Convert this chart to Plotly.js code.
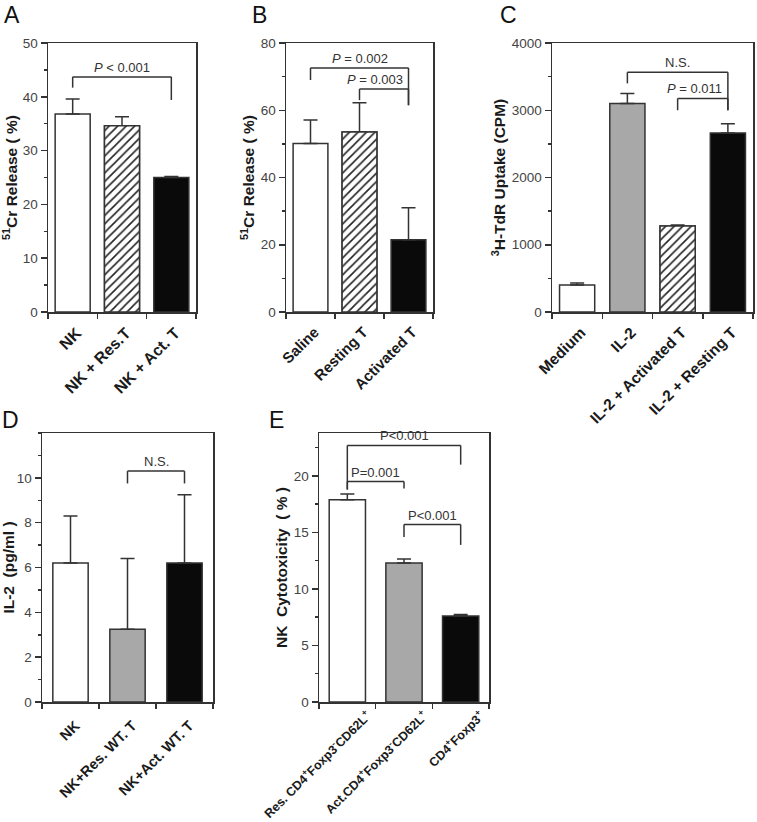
<!DOCTYPE html>
<html><head><meta charset="utf-8">
<script src="https://cdn.plot.ly/plotly-3.0.1.min.js"></script>
<style>html,body{margin:0;padding:0;background:#fff}#chart{width:757px;height:822px}</style>
</head><body><div id="chart"></div>
<script>
// ---- Data ----
const catsA = ["NK", "NK + Res.T", "NK + Act. T"];
const valsA = [36.8, 34.6, 25.0];
const errA  = [2.8, 1.7, 0.2];

const catsB = ["Saline", "Resting T", "Activated T"];
const valsB = [50.1, 53.5, 21.5];
const errB  = [7.0, 8.7, 9.5];

const catsC = ["Medium", "IL-2", "IL-2 + Activated T", "IL-2 + Resting T"];
const valsC = [400, 3100, 1280, 2660];
const errC  = [30, 150, 15, 140];

const catsD = ["NK", "NK+Res. WT. T", "NK+Act. WT. T"];
const valsD = [6.2, 3.25, 6.2];
const errD  = [2.1, 3.15, 3.05];

const catsE = ["Res. CD4<sup>+</sup>Foxp3<sup>-</sup>CD62L<sup>+</sup>",
               "Act.CD4<sup>+</sup>Foxp3<sup>-</sup>CD62L<sup>+</sup>",
               "CD4<sup>+</sup>Foxp3<sup>+</sup>"];
const valsE = [17.9, 12.3, 7.6];
const errE  = [0.5, 0.35, 0.15];

// significance brackets: [fromIndex, toIndex, top, leftEnd, rightEnd, label]
const bracketsA = [[0, 2, 43.7, 41.7, 39.4, "<i>P</i> < 0.001"]];
const bracketsB = [[0, 2, 72.6, 69.0, 61.5, "<i>P</i> = 0.002"],
                   [1, 2, 66.3, 63.0, 61.5, "<i>P</i> = 0.003"]];
const bracketsC = [[1, 3, 3565, 3400, 3000, "N.S."],
                   [2, 3, 3175, 3000, 3000, "<i>P</i> = 0.011"]];
const bracketsD = [[1, 2, 10.3, 9.75, 9.75, "N.S."]];
const bracketsE = [[0, 2, 22.7, 18.8, 21.0, "P<0.001"],
                   [0, 1, 19.5, 18.8, 18.9, "P=0.001"],
                   [1, 2, 15.7, 14.6, 13.9, "P<0.001"]];

// ---- Layout helpers ----
const W = 757, H = 822;
const FONT = "Arial, 'Liberation Sans', Helvetica, sans-serif";
const LINE = "#333";
const fx = p => p / W;
const fy = p => 1 - p / H;

const WHITE = "#ffffff", GRAY = "#a8a8a8", BLACK = "#0a0a0a";

const panels = [
  {id:"", letter:"A", lpos:[12,15], cats:catsA, vals:valsA, errs:errA, br:bracketsA, lshift:[0],
   fills:[WHITE, WHITE, BLACK], hatch:[false, true, false], bw:0.71, tfs:16, shift:4, stand:4,
   dom:[48,196,43,312], range:[0,50], dtick:10, minor:5,
   ytitle:"<sup>51</sup>Cr Release ( %)"},
  {id:"2", letter:"B", lpos:[259,15], cats:catsB, vals:valsB, errs:errB, br:bracketsB, lshift:[0,-9],
   fills:[WHITE, WHITE, BLACK], hatch:[false, true, false], bw:0.71, tfs:15, shift:4, stand:4,
   dom:[286,433,43,312], range:[0,80], dtick:20, minor:10,
   ytitle:"<sup>51</sup>Cr Release ( %)"},
  {id:"3", letter:"C", lpos:[508,15], cats:catsC, vals:valsC, errs:errC, br:bracketsC, lshift:[0,-8],
   fills:[WHITE, GRAY, WHITE, BLACK], hatch:[false, false, true, false], bw:0.7, tfs:15.5, shift:4, stand:4,
   dom:[552,753,43,312], range:[0,4000], dtick:1000, minor:500,
   ytitle:"<sup>3</sup>H-TdR Uptake (CPM)"},
  {id:"4", letter:"D", lpos:[10,420], cats:catsD, vals:valsD, errs:errD, br:bracketsD, lshift:[0],
   fills:[WHITE, GRAY, BLACK], hatch:[false, false, false], bw:0.62, tfs:14.5, shift:5, stand:8,
   dom:[42,213,433,702], range:[0,12], tickvals:[0,2,4,6,8,10], minor:1,
   ytitle:"IL-2\u00a0\u00a0(pg/ml\u00a0)"},
  {id:"5", letter:"E", lpos:[276,420], cats:catsE, vals:valsE, errs:errE, br:bracketsE, lshift:[0,0,0],
   fills:[WHITE, GRAY, BLACK], hatch:[false, false, false], bw:0.64, tfs:12.5, shift:20, stand:0,
   dom:[319,489,433,702], range:[0,23.8], dtick:5, minor:2.5,
   ytitle:"NK\u00a0\u00a0Cytotoxicity\u00a0\u00a0(\u00a0%\u00a0)"}
];

const data = [];
const layout = {
  width: W, height: H, margin:{l:0,r:0,t:0,b:0},
  paper_bgcolor:"#fff", plot_bgcolor:"#fff", barmode:"overlay",
  showlegend:false, font:{family:FONT, color:"#222"},
  shapes:[], annotations:[]
};

panels.forEach(p => {
  const xa = "x" + p.id, ya = "y" + p.id;
  data.push({
    type:"bar", x:p.cats, y:p.vals, xaxis:xa, yaxis:ya, width:p.bw,
    marker:{color:p.fills, line:{color:LINE, width:1.5}},
    error_y:{type:"data", symmetric:false, array:p.errs, arrayminus:p.errs.map(()=>0),
             color:LINE, thickness:1.5, width:7},
    hoverinfo:"skip"
  });
  // hatched bars drawn as an overlay trace with a diagonal pattern
  const hx = p.cats.filter((c, i) => p.hatch[i]);
  const hy = p.vals.filter((v, i) => p.hatch[i]);
  if (hx.length) {
    data.push({
      type:"bar", x:hx, y:hy, xaxis:xa, yaxis:ya, width:p.bw,
      marker:{color:"#ffffff", line:{color:LINE, width:1.5},
              pattern:{shape:"/", fgcolor:"#222", bgcolor:"#ffffff", fgopacity:1,
                       fillmode:"overlay", size:6, solidity:0.26}},
      hoverinfo:"skip"
    });
  }
  layout["xaxis" + p.id] = {
    domain:[fx(p.dom[0]), fx(p.dom[1])], anchor:ya, type:"category",
    range:[-0.5, p.cats.length - 0.5],
    showline:true, linecolor:LINE, linewidth:1.5, mirror:true,
    ticks:"outside", tickson:"boundaries", ticklen:5, tickwidth:1.5, tickcolor:LINE,
    tickangle:-45, ticklabelshift:p.shift, ticklabelstandoff:p.stand,
    tickfont:{family:FONT, size:p.tfs, color:"#1a1a1a", weight:"bold"},
    showgrid:false, zeroline:false, fixedrange:true
  };
  const yax = {
    domain:[fy(p.dom[3]), fy(p.dom[2])], anchor:xa, range:p.range,
    showline:true, linecolor:LINE, linewidth:1.5, mirror:true,
    ticks:"outside", ticklen:6, tickwidth:1.5, tickcolor:LINE,
    tickfont:{family:FONT, size:13.5, color:"#444"},
    minor:{ticks:"outside", ticklen:3, tickwidth:1.5, tickcolor:LINE, dtick:p.minor, showgrid:false},
    showgrid:false, zeroline:false, fixedrange:true,
    title:{text:p.ytitle, standoff:2, font:{family:FONT, size:15.5, color:"#1a1a1a", weight:"bold"}}
  };
  if (p.tickvals) { yax.tickmode = "array"; yax.tickvals = p.tickvals; }
  else { yax.dtick = p.dtick; yax.tick0 = 0; }
  layout["yaxis" + p.id] = yax;

  p.br.forEach((b, k) => {
    const [i0, i1, top, l, r, label] = b;
    const sh = {type:"line", xref:xa, yref:ya, line:{color:LINE, width:1.5}};
    layout.shapes.push(Object.assign({}, sh, {x0:i0, x1:i0, y0:l, y1:top}));
    layout.shapes.push(Object.assign({}, sh, {x0:i0, x1:i1, y0:top, y1:top}));
    layout.shapes.push(Object.assign({}, sh, {x0:i1, x1:i1, y0:top, y1:r}));
    layout.annotations.push({xref:xa, yref:ya, x:(i0 + i1) / 2, y:top, yanchor:"bottom",
      xshift:p.lshift[k] || 0,
      text:label, showarrow:false, font:{family:FONT, size:13, color:"#333"}});
  });

  layout.annotations.push({xref:"paper", yref:"paper", x:fx(p.lpos[0]), y:fy(p.lpos[1]),
    xanchor:"center", yanchor:"middle", text:p.letter, showarrow:false,
    font:{family:FONT, size:23, color:"#111"}});
});

Plotly.newPlot("chart", data, layout, {displayModeBar:false, staticPlot:true});
</script>
</body></html>
